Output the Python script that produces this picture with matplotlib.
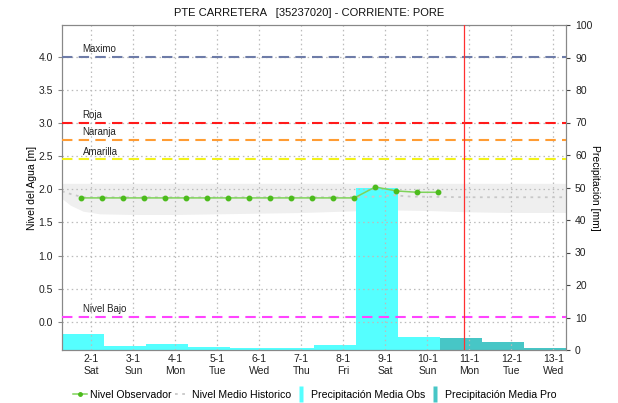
import numpy as np
import matplotlib
matplotlib.use("Agg")
import matplotlib.pyplot as plt
from matplotlib.lines import Line2D

plt.rcParams['font.family'] = ['Liberation Sans', 'DejaVu Sans']

# x axis is in days of January (tick at 00:00 of each day)
day_ticks = [2, 3, 4, 5, 6, 7, 8, 9, 10, 11, 12, 13]
day_labels = ["2-1\nSat", "3-1\nSun", "4-1\nMon", "5-1\nTue", "6-1\nWed", "7-1\nThu",
              "8-1\nFri", "9-1\nSat", "10-1\nSun", "11-1\nMon", "12-1\nTue", "13-1\nWed"]

# observed level, every 12 h
obs_t = [1.76 + 0.5 * k for k in range(18)]
obs_level = [1.87, 1.87, 1.87, 1.87, 1.87, 1.87, 1.87, 1.87, 1.87, 1.87,
             1.87, 1.87, 1.87, 1.87, 2.035, 1.975, 1.955, 1.955]

# historic mean level and its band
hist_t = [1.3, 1.5, 1.8, 2.5, 4, 6, 8, 8.8, 9.2, 9.6, 11, 13.3]
hist_mean = [1.97, 1.93, 1.88, 1.88, 1.88, 1.88, 1.88, 1.89, 1.91, 1.89, 1.88, 1.88]
band_t = [1.3, 1.5, 1.8, 2.2, 3, 4, 5, 6, 7, 8, 9, 10, 11, 12, 13.3]
band_low = [1.86, 1.76, 1.67, 1.63, 1.62, 1.62, 1.63, 1.64, 1.65, 1.67, 1.69, 1.68, 1.66, 1.65, 1.65]
band_high = [2.09, 2.09, 2.09, 2.09, 2.09, 2.09, 2.09, 2.09, 2.09, 2.09, 2.09, 2.09, 2.09, 2.09, 2.09]

# daily precipitation (07h - 07h)
obs_rain_start = [1.3, 2.3, 3.3, 4.3, 5.3, 6.3, 7.3, 8.3, 9.3]
obs_rain = [4.9, 1.3, 1.95, 0.9, 0.5, 0.5, 1.6, 50.0, 4.1]
pro_rain_start = [10.3, 11.3, 12.3]
pro_rain = [3.7, 2.45, 0.7]

# thresholds
thr_names = ["Maximo", "Roja", "Naranja", "Amarilla", "Nivel Bajo"]
thr_values = [4.0, 3.0, 2.74, 2.45, 0.08]
thr_colors = ["#6e7ca8", "#ff1a1a", "#ff9c33", "#f2f21a", "#ff44ff"]

now_t = 10.86

fig = plt.figure(figsize=(6.18, 4.03), dpi=100)
ax = fig.add_axes([62 / 618, 53 / 403, 504 / 618, 325 / 403])
ax2 = ax.twinx()

ax.set_xlim(1.3, 13.3)
ax.set_ylim(-0.424, 4.478)
ax2.set_ylim(0, 100)

# band of historic levels sits behind the rain bars (level axis transform)
ax2.fill_between(band_t, band_low, band_high, color="#efefef", lw=0, zorder=0,
                 transform=ax.transData)

# precipitation on the right axis
ax2.bar(obs_rain_start, obs_rain, width=1.0, align='edge', color="#55ffff", zorder=2)
ax2.bar(pro_rain_start, pro_rain, width=1.0, align='edge', color="#47c6c6", zorder=1)
ax2.set_yticks(range(0, 101, 10))
ax2.set_ylabel("Precipitación [mm]", rotation=270, fontsize=7.5, va='center')
ax2.yaxis.set_label_coords(1.057, 0.5)
ax2.set_ylim(0, 100)

ax.set_zorder(ax2.get_zorder() + 1)
ax.patch.set_visible(False)
ax2.patch.set_visible(True)
ax2.patch.set_facecolor("white")

ax.plot(hist_t, hist_mean, color="#c8c8c8", ls=(0, (1.5, 2.5)), lw=1.3, zorder=2)
ax.plot(obs_t, obs_level, color="#7fd35a", lw=1.1, marker='o', ms=3.2,
        mfc="#4cbb1c", mec="#4cbb1c", zorder=4)

for name, val, col in zip(thr_names, thr_values, thr_colors):
    ax.axhline(val, color=col, ls=(0, (5, 3)), lw=1.5, zorder=3)
    ax.annotate(name, (1.79, val), xytext=(0, 2), textcoords='offset points',
                fontsize=7, color="#222222", va='bottom', ha='left')

ax.axvline(now_t, color="#ff3030", lw=0.9, zorder=5)

ax.set_xlim(1.3, 13.3)
ax.set_ylim(-0.424, 4.478)
ax.set_yticks([0.0, 0.5, 1.0, 1.5, 2.0, 2.5, 3.0, 3.5, 4.0])
ax.set_yticklabels(["%.1f" % v for v in ax.get_yticks()])
ax.set_xticks(day_ticks)
ax.set_xticklabels(day_labels)
ax.set_ylabel("Nivel del Agua [m]", fontsize=7.5, va='center')
ax.yaxis.set_label_coords(-0.06, 0.5)
ax.grid(True, color="#bbbbbb", ls=(0, (1.2, 2.5)), lw=0.9, zorder=0)

for a in (ax, ax2):
    for s in a.spines.values():
        s.set_color("#888888")
    a.tick_params(labelsize=7.5, colors="#222222", length=3, width=0.8)
ax.tick_params(axis='x', length=0, pad=3)
ax.tick_params(axis='y', color="#888888")
ax2.tick_params(axis='y', color="#444444")

fig.text(0.5, 0.968, "PTE CARRETERA   [35237020] - CORRIENTE: PORE",
         ha='center', va='center', fontsize=8, color="#111111")

bar_marker = [(-0.3, -1), (0.3, -1), (0.3, 1), (-0.3, 1)]
handles = [Line2D([], [], color="#7fd35a", marker='o', ms=2.5, mfc="#4cbb1c", mec="#4cbb1c", lw=1.1),
           Line2D([], [], color="#c8c8c8", ls=(0, (1.5, 2.5)), lw=1.3),
           Line2D([], [], ls='none', marker=bar_marker, ms=11, color="#55ffff", mec="none"),
           Line2D([], [], ls='none', marker=bar_marker, ms=11, color="#47c6c6", mec="none")]
labels = ["Nivel Observador", "Nivel Medio Historico", "Precipitación Media Obs", "Precipitación Media Pro"]
fig.legend(handles, labels, loc='center', bbox_to_anchor=(0.51, 0.02), ncol=4, frameon=False,
           fontsize=7.6, handlelength=1.3, handletextpad=0.3, columnspacing=0.3)

fig.savefig("out.png", dpi=100)
